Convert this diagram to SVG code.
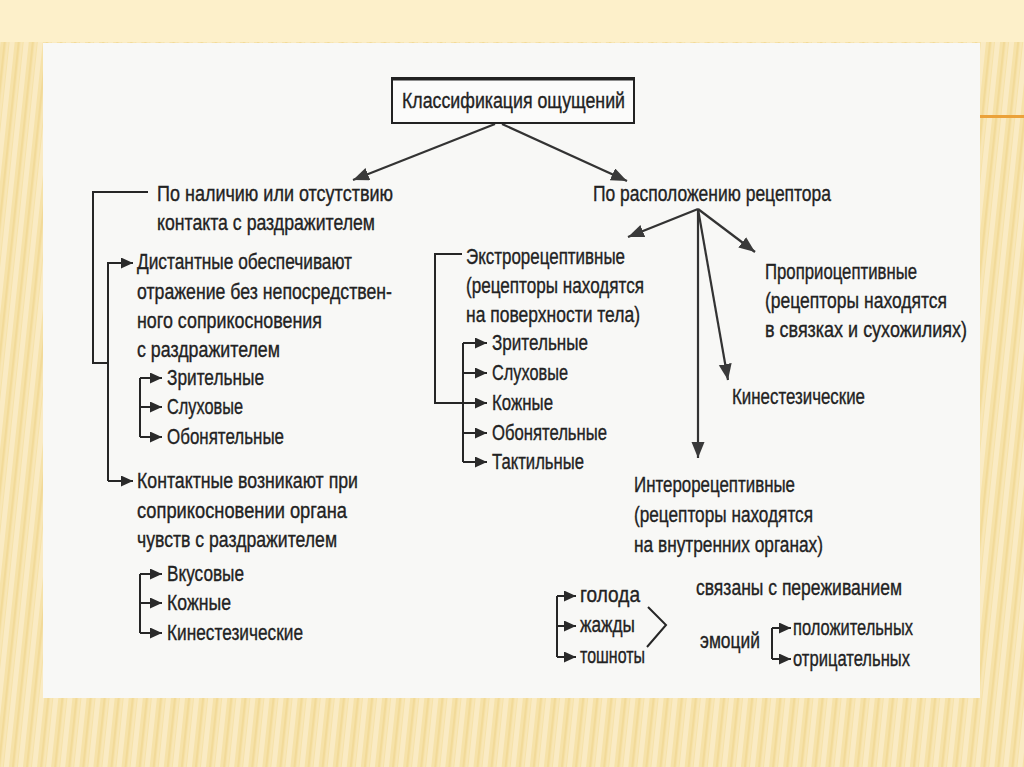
<svg xmlns="http://www.w3.org/2000/svg" width="1024" height="767" viewBox="0 0 1024 767">
<defs>
<pattern id="stripes" patternUnits="userSpaceOnUse" width="14" height="40" patternTransform="rotate(6)">
<rect width="14" height="40" fill="#f6e2a9"/>
<rect x="0" width="5" height="40" fill="#faebc4"/>
<rect x="8" width="2" height="40" fill="#f2da99"/>
<rect x="11" width="2" height="40" fill="#f8e6b6"/>
</pattern>
<marker id="big" markerUnits="userSpaceOnUse" markerWidth="18" markerHeight="14" refX="16" refY="6.5" orient="auto">
<path d="M0,0 L16,6.5 L0,13 z" fill="#3a3a3a"/>
</marker>
<marker id="small" markerUnits="userSpaceOnUse" markerWidth="13" markerHeight="12" refX="12" refY="5.5" orient="auto">
<path d="M0,0 L12,5.5 L0,11 z" fill="#2a2a2a"/>
</marker>
<style>
text{font-family:"Liberation Sans","Noto Sans",sans-serif;font-size:21.5px;fill:#222;stroke:#222;stroke-width:0.35}
.t{font-size:22px}
.c{fill:none;stroke:#262626;stroke-width:2}
.ca{fill:none;stroke:#333;stroke-width:2.2;marker-end:url(#big)}
.cs{fill:none;stroke:#262626;stroke-width:2;marker-end:url(#small)}
</style>
</defs>
<rect width="1024" height="767" fill="url(#stripes)"/>
<rect width="1024" height="42" fill="#fdf0ca"/>
<rect x="43" y="43" width="937" height="655" fill="#f8f8f6"/>
<line x1="980" y1="116.5" x2="1024" y2="116.5" stroke="#eba23a" stroke-width="3"/>

<g id="connectors">
<line class="ca" x1="495" y1="124" x2="353" y2="180"/>
<line class="ca" x1="502" y1="124" x2="627" y2="181"/>
<line class="ca" x1="698" y1="209" x2="628" y2="237"/>
<line class="ca" x1="698" y1="209" x2="755" y2="252"/>
<line class="ca" x1="698" y1="209" x2="728" y2="380"/>
<line class="ca" x1="698" y1="209" x2="698" y2="458"/>
<polyline class="c" points="148,192 93,192 93,363 108,363"/>
<line class="c" x1="108" y1="262" x2="108" y2="481"/>
<polyline class="cs" points="108,263 133,263"/>
<polyline class="cs" points="108,481 133,481"/>
<line class="c" x1="140" y1="378" x2="140" y2="437"/>
<polyline class="cs" points="140,378 162,378"/>
<polyline class="cs" points="140,407 162,407"/>
<polyline class="cs" points="140,437 162,437"/>
<line class="c" x1="140" y1="574" x2="140" y2="633"/>
<polyline class="cs" points="140,574 162,574"/>
<polyline class="cs" points="140,603 162,603"/>
<polyline class="cs" points="140,633 162,633"/>
<polyline class="c" points="462,254 435,254 435,403 463,403"/>
<line class="c" x1="463" y1="343" x2="463" y2="462"/>
<polyline class="cs" points="463,343 487,343"/>
<polyline class="cs" points="463,373 487,373"/>
<polyline class="cs" points="463,403 487,403"/>
<polyline class="cs" points="463,433 487,433"/>
<polyline class="cs" points="463,462 487,462"/>
<line class="c" x1="557" y1="596" x2="557" y2="657"/>
<polyline class="cs" points="557,596 576,596"/>
<polyline class="cs" points="557,626 576,626"/>
<polyline class="cs" points="557,657 576,657"/>
<polyline class="c" points="648,607 666,625 647,647"/>
<line class="c" x1="772" y1="628" x2="772" y2="659"/>
<polyline class="cs" points="772,628 791,628"/>
<polyline class="cs" points="772,659 791,659"/>
</g>

<g id="root">
<rect x="392" y="78" width="242" height="45" fill="#fbfbfa" stroke="#222" stroke-width="2"/>
<line x1="392" y1="79" x2="634" y2="79" stroke="#222" stroke-width="3"/>
<text class="t" x="402" y="108" textLength="223" lengthAdjust="spacingAndGlyphs">Классификация ощущений</text>
</g>

<g id="by-contact">
<text x="157" y="201" textLength="236" lengthAdjust="spacingAndGlyphs">По наличию или отсутствию</text>
<text x="157" y="230" textLength="218" lengthAdjust="spacingAndGlyphs">контакта с раздражителем</text>
</g>

<g id="distant">
<text x="137" y="269" textLength="215" lengthAdjust="spacingAndGlyphs">Дистантные обеспечивают</text>
<text x="137" y="299" textLength="255" lengthAdjust="spacingAndGlyphs">отражение без непосредствен-</text>
<text x="137" y="328" textLength="185" lengthAdjust="spacingAndGlyphs">ного соприкосновения</text>
<text x="137" y="357" textLength="143" lengthAdjust="spacingAndGlyphs">с раздражителем</text>
</g>
<g id="distant-items">
<text x="167" y="385" textLength="97" lengthAdjust="spacingAndGlyphs">Зрительные</text>
<text x="167" y="414" textLength="76" lengthAdjust="spacingAndGlyphs">Слуховые</text>
<text x="167" y="444" textLength="117" lengthAdjust="spacingAndGlyphs">Обонятельные</text>
</g>

<g id="contact">
<text x="137" y="488" textLength="221" lengthAdjust="spacingAndGlyphs">Контактные возникают при</text>
<text x="137" y="518" textLength="210" lengthAdjust="spacingAndGlyphs">соприкосновении органа</text>
<text x="137" y="547" textLength="200" lengthAdjust="spacingAndGlyphs">чувств с раздражителем</text>
</g>
<g id="contact-items">
<text x="167" y="581" textLength="77" lengthAdjust="spacingAndGlyphs">Вкусовые</text>
<text x="167" y="610" textLength="64" lengthAdjust="spacingAndGlyphs">Кожные</text>
<text x="167" y="640" textLength="136" lengthAdjust="spacingAndGlyphs">Кинестезические</text>
</g>

<g id="by-location">
<text x="593" y="201" textLength="238" lengthAdjust="spacingAndGlyphs">По расположению рецептора</text>
</g>

<g id="extero">
<text x="466" y="264" textLength="159" lengthAdjust="spacingAndGlyphs">Экстрорецептивные</text>
<text x="466" y="293" textLength="178" lengthAdjust="spacingAndGlyphs">(рецепторы находятся</text>
<text x="466" y="322" textLength="174" lengthAdjust="spacingAndGlyphs">на поверхности тела)</text>
</g>
<g id="extero-items">
<text x="492" y="350" textLength="96" lengthAdjust="spacingAndGlyphs">Зрительные</text>
<text x="492" y="380" textLength="76" lengthAdjust="spacingAndGlyphs">Слуховые</text>
<text x="492" y="410" textLength="61" lengthAdjust="spacingAndGlyphs">Кожные</text>
<text x="492" y="440" textLength="115" lengthAdjust="spacingAndGlyphs">Обонятельные</text>
<text x="492" y="469" textLength="92" lengthAdjust="spacingAndGlyphs">Тактильные</text>
</g>

<g id="proprio">
<text x="765" y="279" textLength="152" lengthAdjust="spacingAndGlyphs">Проприоцептивные</text>
<text x="765" y="308" textLength="182" lengthAdjust="spacingAndGlyphs">(рецепторы находятся</text>
<text x="765" y="337" textLength="202" lengthAdjust="spacingAndGlyphs">в связках и сухожилиях)</text>
</g>

<g id="kinest">
<text x="732" y="404" textLength="133" lengthAdjust="spacingAndGlyphs">Кинестезические</text>
</g>

<g id="intero">
<text x="634" y="492" textLength="161" lengthAdjust="spacingAndGlyphs">Интерорецептивные</text>
<text x="634" y="522" textLength="179" lengthAdjust="spacingAndGlyphs">(рецепторы находятся</text>
<text x="634" y="552" textLength="189" lengthAdjust="spacingAndGlyphs">на внутренних органах)</text>
</g>

<g id="intero-items">
<text x="580" y="602" textLength="60" lengthAdjust="spacingAndGlyphs">голода</text>
<text x="580" y="632" textLength="55" lengthAdjust="spacingAndGlyphs">жажды</text>
<text x="580" y="663" textLength="65" lengthAdjust="spacingAndGlyphs">тошноты</text>
</g>

<g id="emotions">
<text x="696" y="595" textLength="206" lengthAdjust="spacingAndGlyphs">связаны с переживанием</text>
<text x="700" y="648" textLength="60" lengthAdjust="spacingAndGlyphs">эмоций</text>
</g>
<g id="emotion-items">
<text x="793" y="635" textLength="120" lengthAdjust="spacingAndGlyphs">положительных</text>
<text x="793" y="666" textLength="117" lengthAdjust="spacingAndGlyphs">отрицательных</text>
</g>
</svg>
